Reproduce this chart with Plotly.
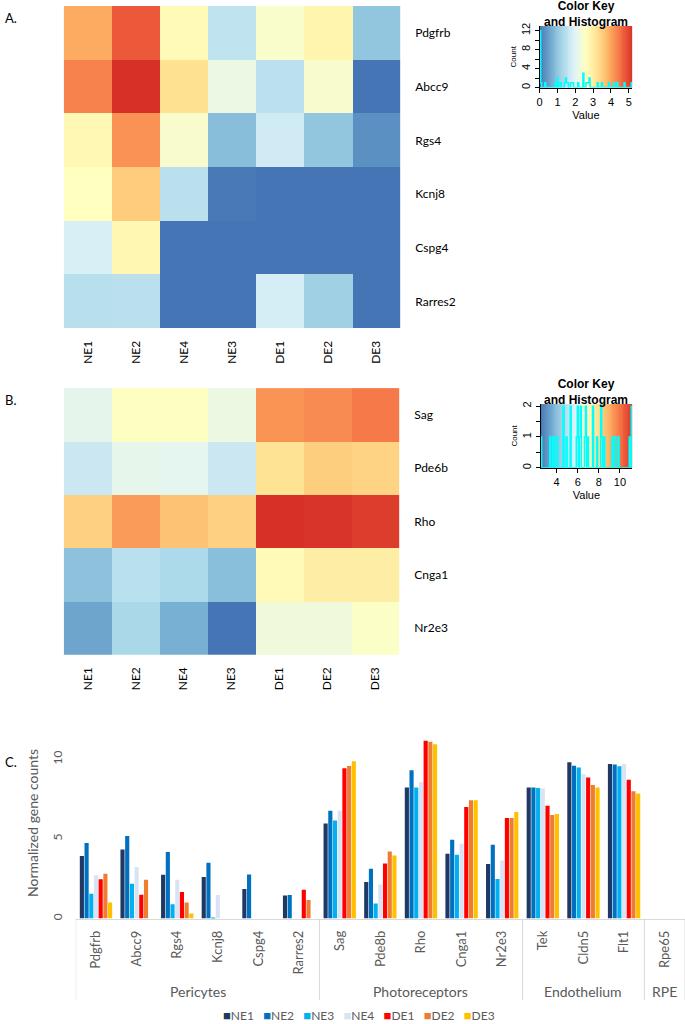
import numpy as np
import plotly.graph_objects as go

W, H = 685, 1024


def fx(p):
    return p / W


def fy(p):
    return 1 - p / H


# ---- data -----------------------------------------------------------------
heat_cols = ["NE1", "NE2", "NE4", "NE3", "DE1", "DE2", "DE3"]

heat_a_genes = ["Pdgfrb", "Abcc9", "Rgs4", "Kcnj8", "Cspg4", "Rarres2"]
heat_a = [
    [3.92, 4.75, 2.71, 1.56, 2.46, 2.81, 1.00],
    [4.33, 5.19, 3.23, 2.19, 1.50, 2.44, 0.00],
    [2.75, 4.17, 2.44, 0.90, 1.75, 1.00, 0.31],
    [2.60, 3.50, 1.48, 0.06, 0.00, 0.00, 0.00],
    [1.85, 2.77, 0.00, 0.00, 0.00, 0.00, 0.00],
    [1.44, 1.48, 0.00, 0.00, 1.81, 1.17, 0.00],
]

heat_b_genes = ["Sag", "Pde6b", "Rho", "Cnga1", "Nr2e3"]
heat_b = [
    [5.96, 6.77, 6.77, 6.15, 9.44, 9.58, 9.88],
    [5.30, 6.00, 5.90, 5.30, 7.80, 8.30, 8.20],
    [8.23, 9.31, 8.56, 8.23, 11.17, 11.10, 10.94],
    [4.06, 4.94, 4.69, 4.00, 7.00, 7.42, 7.42],
    [3.42, 4.63, 3.65, 2.48, 6.31, 6.31, 6.69],
]

genes = ["Pdgfrb", "Abcc9", "Rgs4", "Kcnj8", "Cspg4", "Rarres2", "Sag", "Pde8b",
         "Rho", "Cnga1", "Nr2e3", "Tek", "Cldn5", "Flt1", "Rpe65"]
groups = ["Pericytes"] * 6 + ["Photoreceptors"] * 5 + ["Endothelium"] * 3 + ["RPE"]

samples = ["NE1", "NE2", "NE3", "NE4", "DE1", "DE2", "DE3"]
ne1 = [3.92, 4.33, 2.75, 2.60, 1.85, 1.44, 5.96, 2.29, 8.23, 4.06, 3.42, 8.23, 9.81, 9.71, 0]
ne2 = [4.75, 5.19, 4.17, 3.50, 2.77, 1.48, 6.77, 3.13, 9.31, 4.94, 4.63, 8.23, 9.60, 9.67, 0]
ne3 = [1.56, 2.19, 0.90, 0.06, 0, 0, 6.15, 0.94, 8.23, 4.00, 2.48, 8.19, 9.48, 9.56, 0]
ne4 = [2.71, 3.23, 2.44, 1.48, 0, 0, 6.77, 2.13, 8.56, 4.69, 3.65, 8.17, 9.06, 9.71, 0]
de1 = [2.46, 1.50, 1.67, 0, 0, 1.81, 9.44, 3.46, 11.17, 7.00, 6.31, 7.08, 8.85, 8.71, 0]
de2 = [2.81, 2.44, 1.00, 0, 0, 1.17, 9.58, 4.21, 11.10, 7.42, 6.31, 6.50, 8.38, 8.00, 0]
de3 = [1.00, 0, 0.31, 0, 0, 0, 9.88, 3.96, 10.94, 7.42, 6.69, 6.56, 8.23, 7.85, 0]
series = [ne1, ne2, ne3, ne4, de1, de2, de3]
bar_colors = ["#1F3864", "#0070C0", "#00B0F0", "#DAE3F3", "#FF0000", "#ED7D31", "#FFC000"]

# ---- styles ---------------------------------------------------------------
rdylbu = ["#4575B4", "#74ADD1", "#ABD9E9", "#E0F3F8", "#FFFFBF",
          "#FEE090", "#FDAE61", "#F46D43", "#D73027"]
cscale = [[i / (len(rdylbu) - 1), c] for i, c in enumerate(rdylbu)]
LBL = "Lato"
RFONT = "Liberation Sans"
GREY = "#595959"

fig = go.Figure()

# ---- heatmaps + colour keys ----------------------------------------------
panels = [
    dict(z=heat_a, genes=heat_a_genes, n="2", k="3",
         hbox=(61, 399, 3, 327), kbox=(539, 632, 23, 85), ymax=13,
         xt=[0, 1, 2, 3, 4, 5], yt=[0, 2, 4, 6, 8, 10, 12],
         ytt=["0", "", "4", "", "8", "", "12"], title_y=11),
    dict(z=heat_b, genes=heat_b_genes, n="4", k="5",
         hbox=(61, 398, 387, 655), kbox=(540, 632, 403, 467), ymax=2.07,
         xt=[4, 6, 8, 10], yt=[0, 0.5, 1, 1.5, 2],
         ytt=["0", "", "1", "", "2"], title_y=391),
]

for p in panels:
    z = np.array(p["z"], dtype=float)
    lo, hi = z.min(), z.max()
    fig.add_trace(go.Heatmap(
        z=p["z"], x=heat_cols, y=p["genes"], colorscale=cscale, zmin=lo, zmax=hi,
        showscale=False, xaxis="x" + p["n"], yaxis="y" + p["n"],
    ))

    # colour key gradient
    edges = np.linspace(lo, hi, 101)
    mids = (edges[:-1] + edges[1:]) / 2
    fig.add_trace(go.Heatmap(
        z=[mids], x=edges, y=[0, p["ymax"]], colorscale=cscale, zmin=lo, zmax=hi,
        showscale=False, hoverinfo="skip", xaxis="x" + p["k"], yaxis="y" + p["k"],
    ))
    # histogram of the heatmap values
    counts, bedges = np.histogram(z.ravel(), bins=90, range=(lo, hi))
    fig.add_trace(go.Scatter(
        x=bedges, y=list(counts) + [counts[-1]], mode="lines", line_shape="hv",
        line=dict(color="#00FFFF", width=1.5), showlegend=False, hoverinfo="skip",
        xaxis="x" + p["k"], yaxis="y" + p["k"],
    ))

    x0, x1, y0, y1 = p["hbox"]
    fig.update_layout(**{
        "xaxis" + p["n"]: dict(
            domain=[fx(x0), fx(x1)], anchor="y" + p["n"], tickangle=-90,
            tickfont=dict(family=LBL, size=12, color="black"), ticks="",
            ticklabelstandoff=9, showgrid=False, zeroline=False,
        ),
        "yaxis" + p["n"]: dict(
            domain=[fy(y1), fy(y0)], anchor="x" + p["n"], side="right",
            autorange="reversed", tickfont=dict(family=LBL, size=12, color="black"),
            ticks="", ticklabelstandoff=14, showgrid=False, zeroline=False,
        ),
    })

    kx0, kx1, ky0, ky1 = p["kbox"]
    axis_common = dict(showline=True, linecolor="black", linewidth=1, ticks="outside",
                       ticklen=4, tickcolor="black", showgrid=False, zeroline=False,
                       tickfont=dict(family=RFONT, size=11, color="black"))
    fig.update_layout(**{
        "xaxis" + p["k"]: dict(
            domain=[fx(kx0), fx(kx1)], anchor="y" + p["k"], range=[lo, hi],
            tickvals=p["xt"], title=dict(text="Value", standoff=4,
                                        font=dict(family=RFONT, size=11, color="black")),
            **axis_common,
        ),
        "yaxis" + p["k"]: dict(
            domain=[fy(ky1), fy(ky0)], anchor="x" + p["k"], range=[0, p["ymax"]],
            tickvals=p["yt"], ticktext=p["ytt"], tickangle=-90,
            title=dict(text="Count", standoff=2,
                       font=dict(family=RFONT, size=8, color="black")),
            **axis_common,
        ),
    })
    fig.add_annotation(
        text="<b>Color Key<br>and Histogram</b>", x=fx((kx0 + kx1) / 2),
        y=fy(p["title_y"]), xref="paper", yref="paper", showarrow=False,
        xanchor="center", yanchor="middle",
        font=dict(family=RFONT, size=12, color="black"),
    )

# ---- grouped bar chart ----------------------------------------------------
for name, vals, col in zip(samples, series, bar_colors):
    fig.add_trace(go.Bar(
        x=genes, y=vals, name=name, marker=dict(color=col, line=dict(width=0)),
        showlegend=False, xaxis="x", yaxis="y",
    ))

fig.update_layout(
    barmode="group", bargap=0.19, bargroupgap=0.12,
    xaxis=dict(
        domain=[fx(73), 1], anchor="y", type="category", range=[-0.5, len(genes) - 0.5],
        tickangle=-90, tickfont=dict(family=LBL, size=13, color=GREY), ticks="",
        ticklabelstandoff=6, showline=True, linecolor="#D9D9D9", linewidth=1,
        showgrid=False, zeroline=False,
    ),
    yaxis=dict(
        domain=[fy(920), fy(728)], anchor="x", range=[0, 12], tickvals=[0, 5, 10],
        tickangle=-90, tickfont=dict(family=LBL, size=12, color=GREY),
        ticklabelstandoff=10, showgrid=False, zeroline=False, showline=False,
        title=dict(text="Normalized gene counts", standoff=8,
                   font=dict(family=LBL, size=14, color=GREY)),
    ),
)

# category group boxes and labels
bounds = [-0.5]
for i in range(1, len(groups)):
    if groups[i] != groups[i - 1]:
        bounds.append(i - 0.5)
bounds.append(len(groups) - 0.5)
for b in bounds:
    fig.add_shape(type="line", xref="x", yref="paper", x0=b, x1=b,
                  y0=fy(1002), y1=fy(920), line=dict(color="#D9D9D9", width=1))
for a, b in zip(bounds[:-1], bounds[1:]):
    fig.add_annotation(text=groups[int(a + 0.5)], x=(a + b) / 2, y=fy(993),
                       xref="x", yref="paper", showarrow=False, yanchor="middle",
                       font=dict(family=LBL, size=14, color=GREY))

# compact legend
legend_txt = "   ".join(
    f"<span style='color:{c};font-size:13px'>■</span>{n}" for n, c in zip(samples, bar_colors)
)
fig.add_annotation(text=legend_txt, x=fx(358), y=fy(1017), xref="paper", yref="paper",
                   showarrow=False, xanchor="center", yanchor="middle",
                   font=dict(family=LBL, size=12, color=GREY))

# panel letters
for letter, ypos in [("A.", 15), ("B.", 399), ("C.", 763)]:
    fig.add_annotation(text=letter, x=0, y=fy(ypos), xref="paper", yref="paper",
                       showarrow=False, xanchor="left", yanchor="middle",
                       font=dict(family=LBL, size=13, color="black"))

fig.update_layout(
    width=W, height=H, margin=dict(l=0, r=0, t=0, b=0),
    paper_bgcolor="white", plot_bgcolor="white", showlegend=False,
)

fig.write_html("out.html", config={"displayModeBar": False},
               post_script="document.body.style.margin='0px';")
